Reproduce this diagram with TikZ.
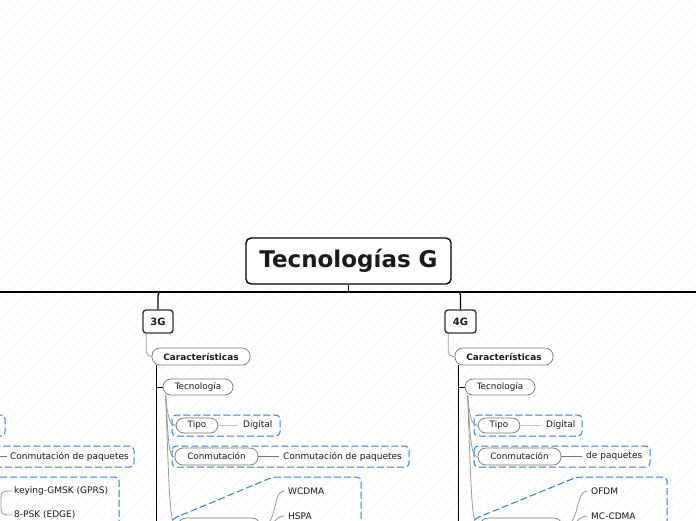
\documentclass[tikz,border=0pt]{standalone}
\usepackage{fontspec}
\setmainfont{DejaVu Sans}
\usetikzlibrary{calc}
\definecolor{grpblue}{HTML}{2A7DE6}
\definecolor{pillgray}{HTML}{777777}
\definecolor{conngray}{HTML}{999999}
\definecolor{txtc}{HTML}{1A1A1A}
\tikzset{
 titlebox/.style={draw=black, line width=1.4pt, rounded corners=5pt, fill=white, minimum width=205pt, minimum height=46pt, inner sep=0pt, font=\fontsize{23}{27}\selectfont\bfseries, text=txtc},
 genbox/.style={draw=black!80, line width=1.4pt, rounded corners=3pt, fill=white, minimum height=23pt, inner sep=0pt, font=\fontsize{10}{12}\selectfont\bfseries, text=txtc},
 pill/.style={draw=pillgray, line width=0.7pt, rounded corners=8pt, fill=white, minimum height=17pt, inner sep=0pt, font=\fontsize{8.8}{10}\selectfont, text=txtc},
 pillb/.style={pill, font=\fontsize{8.9}{10}\selectfont\bfseries},
 leaf/.style={anchor=west, inner sep=0pt, font=\fontsize{9}{10}\selectfont, text=txtc},
 grp/.style={draw=grpblue, line width=1pt, dash pattern=on 7pt off 3pt, rounded corners=4pt},
 conn/.style={draw=conngray, line width=0.8pt},
 trunk/.style={draw=black, line width=1.3pt},
 mainline/.style={draw=black, line width=1.2pt},
 leafline/.style={draw=black!55, line width=0.7pt},
 lightline/.style={draw=black!25, line width=1.2pt},
}
\begin{document}
\begin{tikzpicture}[x=1pt,y=-1pt]
\useasboundingbox (0,0) rectangle (696,520);
\clip (0,0) rectangle (696,520);
\fill[white] (0,0) rectangle (696,520);
\foreach \i in {-520,-510,...,700} \draw[black!4, line width=0.6pt] (\i,520) -- (\i+520,0);

% dashed groups
\draw[grp] (172,415) rectangle (280,436);
\draw[grp] (172,446) rectangle (409,467);
\draw[grp] (172,540) -- (172,519) -- (273,477) -- (361,477) -- (361,540);
\draw[grp] (474,415) rectangle (582,436);
\draw[grp] (474,446) rectangle (650,467);
\draw[grp] (474,540) -- (474,519) -- (577,477) -- (667,477) -- (667,540);
\draw[grp] (-100,415) rectangle (5,436);
\draw[grp] (-150,446) rectangle (134,467);
\draw[grp] (-200,477) -- (119,477) -- (119,540);

% coordinates
\coordinate (hl) at (0,292);
\coordinate (hr) at (696,292);
\coordinate (bot) at (0,540);

% nodes
\node[titlebox] (title) at (348.5,261) {Tecnologías G};
\node[genbox, minimum width=30pt] (g3) at (158,321.5) {3G};
\node[genbox, minimum width=31pt] (g4) at (460.5,321.5) {4G};
\node[pillb, minimum width=98pt] (c3) at (201,356.5) {Características};
\node[pillb, minimum width=98pt] (c4) at (504,356.5) {Características};
\node[pill, minimum width=70pt, minimum height=16pt] (t3) at (198,387) {Tecnología};
\node[pill, minimum width=70pt, minimum height=16pt] (t4) at (500,387) {Tecnología};
\node[pill, minimum width=42pt, minimum height=15pt] (tp3) at (197,425.5) {Tipo};
\node[leaf] (d3) at (243,425.5) {Digital};
\node[pill, minimum width=83pt] (cm3) at (216.5,456.5) {Conmutación};
\node[leaf] (cp3) at (283,456.5) {Conmutación de paquetes};
\node[pill, minimum width=82pt] (r3) at (219,526.5) {};
\node[leaf] (w3) at (288,491) {WCDMA};
\node[leaf] (h3) at (288,516) {HSPA};
\node[pill, minimum width=42pt, minimum height=15pt] (tp4) at (499,425.5) {Tipo};
\node[leaf] (d4) at (546,425.5) {Digital};
\node[pill, minimum width=83pt] (cm4) at (519.5,456.5) {Conmutación};
\node[leaf] (cp4) at (586,456.5) {de paquetes};
\node[pill, minimum width=82pt] (r4) at (521,526.5) {};
\node[leaf] (o4) at (591,491) {OFDM};
\node[leaf] (m4) at (591,516) {MC-CDMA};
\node[leaf] (cp2) at (10,456.5) {Conmutación de paquetes};
\node[leaf] (k2) at (14,491) {keying-GMSK (GPRS)};
\node[leaf] (e2) at (14,515) {8-PSK (EDGE)};
\coordinate (lp) at (1,503);
\coordinate (lc) at (-10,456.5);

% main connectors
\draw[mainline] (hl) -- (hr);
\draw[mainline] (title.south) -- (title.south |- hl);
\draw[mainline, rounded corners=3pt] (g3.north) -- (g3.north |- hl) -- ([xshift=6pt]g3.north |- hl);
\draw[mainline, rounded corners=3pt] (g4.north) -- (g4.north |- hl) -- ([xshift=-6pt]g4.north |- hl);
\draw[conn, rounded corners=5pt] ([xshift=4pt]g3.south west) |- (c3.west);
\draw[conn, rounded corners=5pt] ([xshift=4pt]g4.south west) |- (c4.west);

% trunks
\coordinate (tk3) at ([xshift=5pt]c3.south west);
\coordinate (tk4) at ([xshift=4pt]c4.south west);
\draw[trunk] (tk3) -- (tk3 |- bot);
\draw[trunk] (tk4) -- (tk4 |- bot);
\draw[trunk, line width=0.9pt] (t3.west -| tk3) -- (t3.west);
\draw[trunk, line width=0.9pt] (t4.west -| tk4) -- (t4.west);

% Tecnologia children
\coordinate (s3) at ([xshift=3pt]t3.south west);
\coordinate (s4) at ([xshift=3pt]t4.south west);
\foreach \s/\a/\b/\c in {s3/tp3/cm3/r3, s4/tp4/cm4/r4}{
  \draw[conn] (\s) .. controls ($(\s)+(2,22)$) and ($(\a.west)+(-6,0)$) .. (\a.west);
  \draw[conn] (\s) .. controls ($(\s)+(3,50)$) and ($(\b.west)+(-6,0)$) .. (\b.west);
  \draw[conn] (\s) .. controls ($(\s)+(4,110)$) and ($(\c.west)+(-8,0)$) .. (\c.west);
}

% leaf lines
\draw[lightline] (tp3.east) -- ([xshift=-5pt]d3.west);
\draw[lightline] (tp4.east) -- ([xshift=-5pt]d4.west);
\draw[leafline] (cm3.east) -- ([xshift=-4pt]cp3.west);
\draw[leafline] (cm4.east) -- ([xshift=-4pt]cp4.west);
\draw[leafline] (lc) -- ([xshift=-3pt]cp2.west);

\draw[conn] (r3.east) .. controls ($(r3.east)+(18,0)$) and ($(w3.west)+(-16,0)$) .. ([xshift=-4pt]w3.west);
\draw[conn] (r3.east) .. controls ($(r3.east)+(15,0)$) and ($(h3.west)+(-13,0)$) .. ([xshift=-4pt]h3.west);
\draw[conn] (r4.east) .. controls ($(r4.east)+(18,0)$) and ($(o4.west)+(-16,0)$) .. ([xshift=-4pt]o4.west);
\draw[conn] (r4.east) .. controls ($(r4.east)+(15,0)$) and ($(m4.west)+(-13,0)$) .. ([xshift=-4pt]m4.west);
\draw[conn] (lp) .. controls (1,491) .. ([xshift=-2pt]k2.west);
\draw[conn] (lp) .. controls (1,515) .. ([xshift=-2pt]e2.west);
\end{tikzpicture}
\end{document}
